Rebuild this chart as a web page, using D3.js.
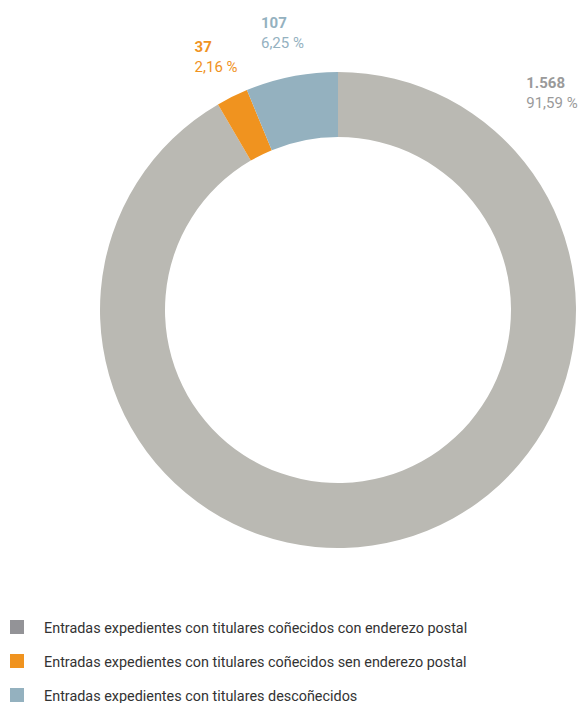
<!DOCTYPE html>
<html>
<head>
<meta charset="utf-8">
<script src="https://cdn.jsdelivr.net/npm/d3@7"></script>
<style>
  body { margin: 0; background: #fff; }
  svg text { font-family: Roboto, "Noto Sans", sans-serif; }
</style>
</head>
<body>
<div id="chart"></div>
<script>
/* chart data */
var categories = [
    "Entradas expedientes con titulares coñecidos con enderezo postal",
    "Entradas expedientes con titulares coñecidos sen enderezo postal",
    "Entradas expedientes con titulares descoñecidos"
]
var values = [1568, 37, 107]
var percents = [91.59, 2.16, 6.25]

var sliceColors = ["#bab9b3", "#f0931f", "#94b1bf"]
var labelColors = ["#9a9a9a", "#f0931f", "#94b1bf"]
var legendColors = ["#939397", "#f0931f", "#94b1bf"]

var width = 579, height = 703
var cx = 338, cy = 310
var outerR = 238, innerR = 173

var locale = d3.formatLocale({ decimal: ",", thousands: ".", grouping: [3], currency: ["", "€"] })
var fmtInt = locale.format(",d")
var fmtPct = locale.format(".2f")

var svg = d3.select("#chart")
    .append("svg")
    .attr("width", width)
    .attr("height", height)

var pie = d3.pie().sort(null).value(function(d) { return d })
var arcs = pie(values)

var arc = d3.arc().innerRadius(innerR).outerRadius(outerR)

var g = svg.append("g").attr("transform", "translate(" + cx + "," + cy + ")")

g.selectAll("path")
    .data(arcs)
    .enter()
    .append("path")
    .attr("d", arc)
    .attr("fill", function(d, i) { return sliceColors[i] })

/* labels: big slice label sits up at the right, small ones over their slice */
var nudge = [[0, 0], [7, 2], [1, 2]]
function labelPoint(d, i) {
    var a = (d.startAngle + d.endAngle) / 2
    var r = 290
    if (i == 0) { a = 44 * Math.PI / 180; r = 308 }
    return [Math.sin(a) * r + nudge[i][0], -Math.cos(a) * r + nudge[i][1]]
}

arcs.forEach(function(d, i) {
    var p = labelPoint(d, i)
    var lbl = g.append("g")
    var t1 = lbl.append("text")
        .attr("y", 0)
        .attr("font-size", "15px")
        .attr("font-weight", "bold")
        .attr("fill", labelColors[i])
        .text(fmtInt(values[i]))
    var t2 = lbl.append("text")
        .attr("y", 20)
        .attr("font-size", "15px")
        .attr("fill", labelColors[i])
        .text(fmtPct(percents[i]) + " %")
    var w = Math.max(t1.node().getComputedTextLength(), t2.node().getComputedTextLength())
    lbl.attr("transform", "translate(" + (p[0] - w / 2) + "," + p[1] + ")")
})

/* legend */
var legend = svg.append("g").attr("transform", "translate(10,620)")

var rows = legend.selectAll("g")
    .data(categories)
    .enter()
    .append("g")
    .attr("transform", function(d, i) { return "translate(0," + (i * 34) + ")" })

rows.append("rect")
    .attr("width", 14)
    .attr("height", 14)
    .attr("fill", function(d, i) { return legendColors[i] })

rows.append("text")
    .attr("x", 34)
    .attr("y", 12.5)
    .attr("font-size", "14.4px")
    .attr("fill", "#333")
    .text(function(d) { return d })
</script>
</body>
</html>
